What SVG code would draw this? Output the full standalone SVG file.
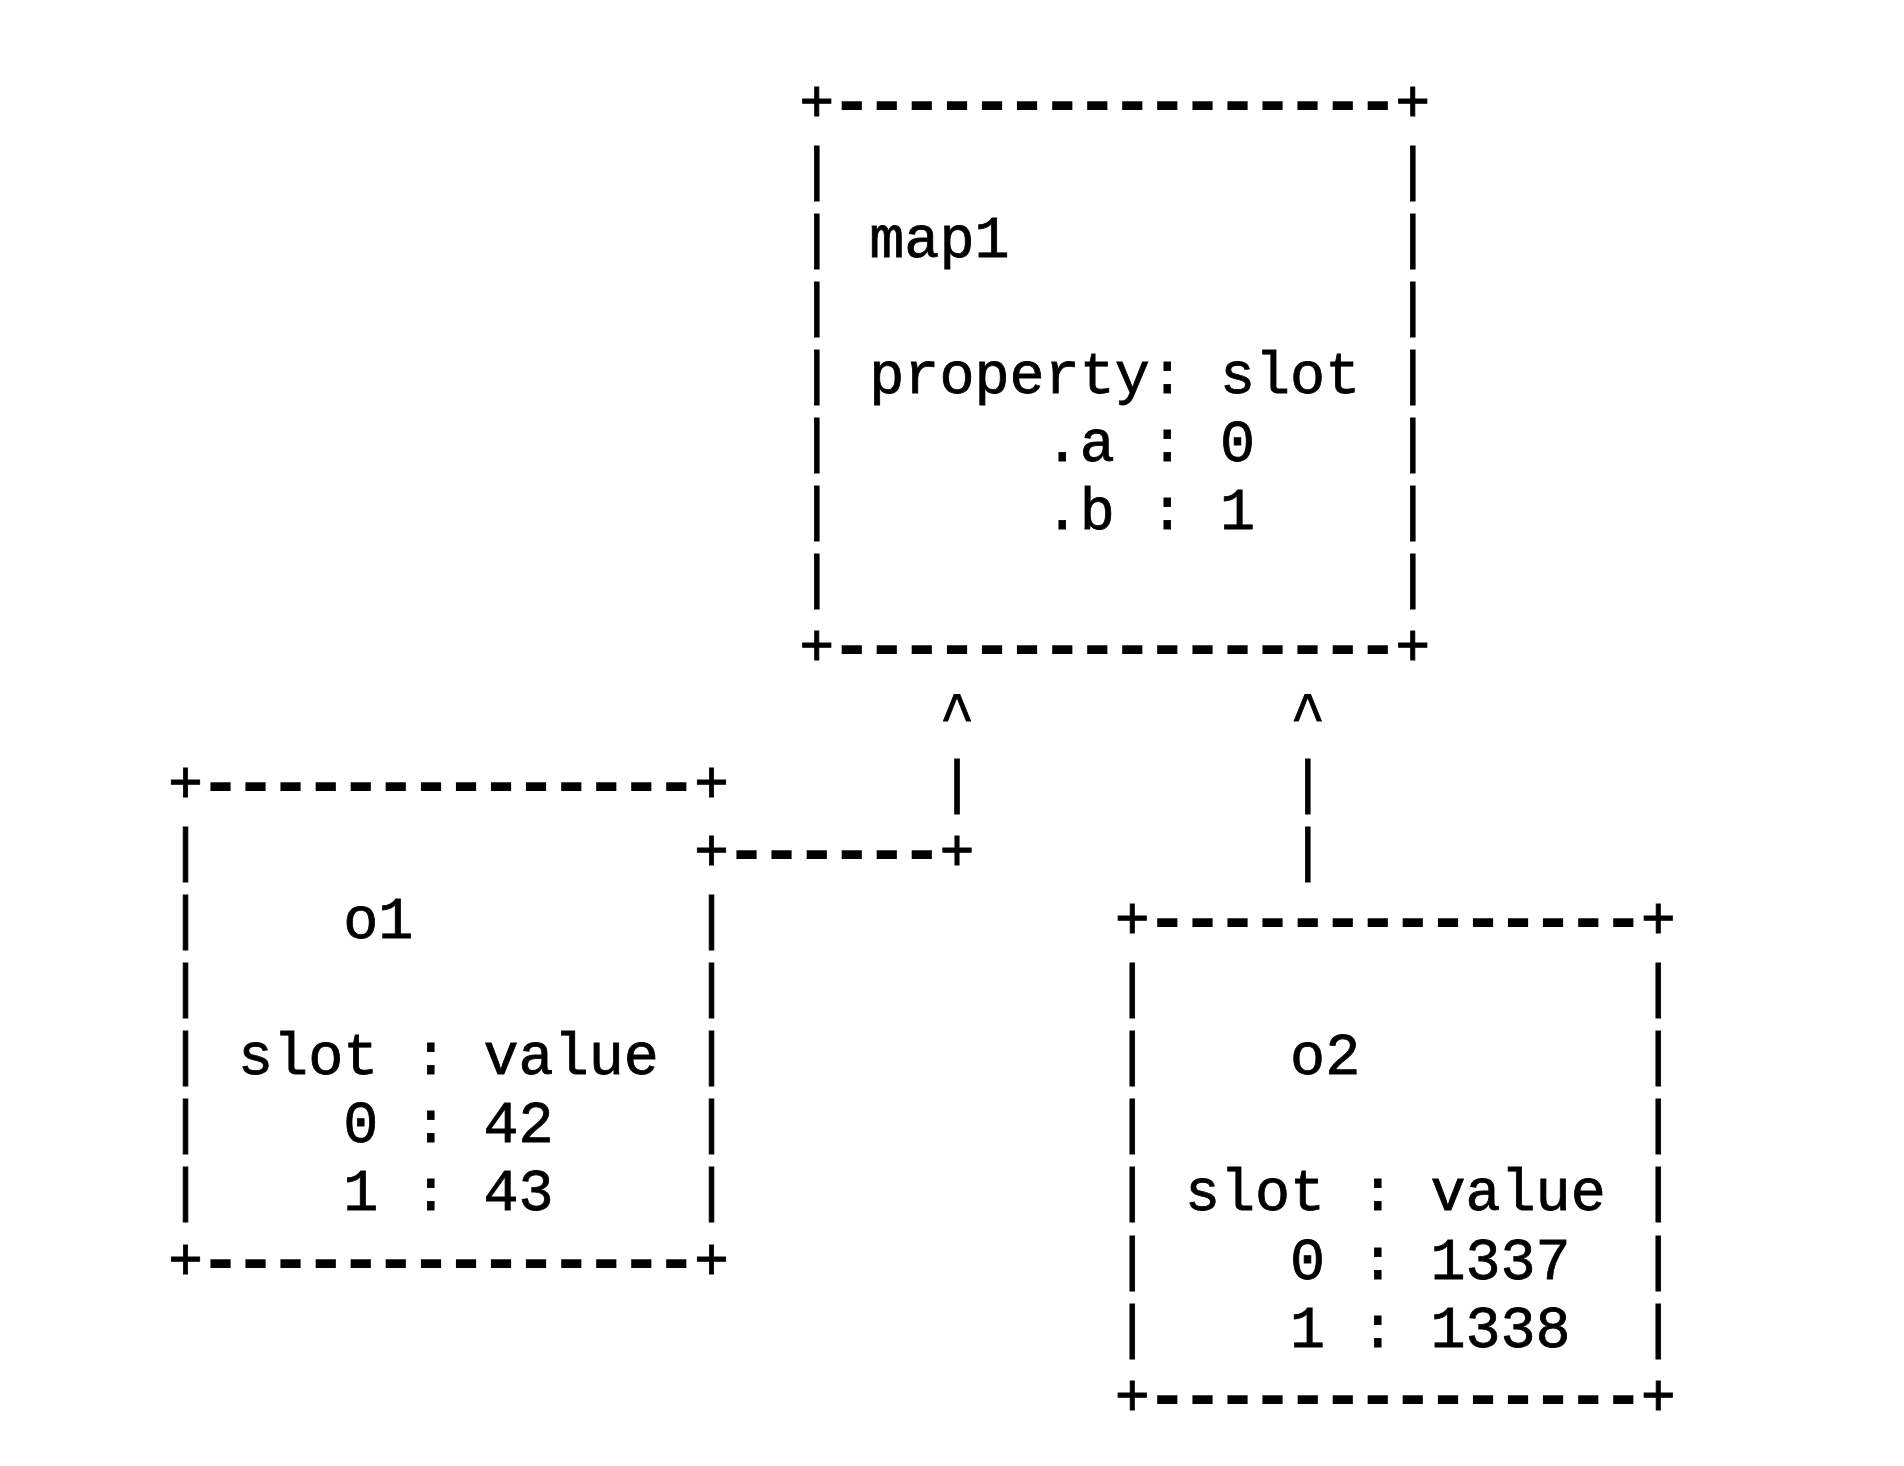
<svg xmlns="http://www.w3.org/2000/svg" width="1904" height="1466" viewBox="0 0 1904 1466" xml:space="preserve">
<style>
text { font-family: "Liberation Mono", "DejaVu Sans Mono", monospace; font-size: 58.45px; fill: #000; stroke: #000; stroke-width: 0.8px; white-space: pre; }
.d { stroke-width: 4.2px; stroke-linejoin: miter; }
</style>
<rect x="0" y="0" width="1904" height="1466" fill="#fff" stroke="none"/>
<g id="map1">
<text x="799.16" y="120.5">+<tspan class="d">----------------</tspan>+</text>
<text x="799.16" y="188.62">|                |</text>
<text x="799.16" y="256.74">| map1           |</text>
<text x="799.16" y="324.86">|                |</text>
<text x="799.16" y="392.98">| property: slot |</text>
<text x="799.16" y="461.1">|      .a : 0    |</text>
<text x="799.16" y="529.22">|      .b : 1    |</text>
<text x="799.16" y="597.34">|                |</text>
<text x="799.16" y="665.46">+<tspan class="d">----------------</tspan>+</text>
</g>
<g id="o1">
<text x="167.9" y="801.7">+<tspan class="d">--------------</tspan>+</text>
<text x="167.9" y="869.82">|</text>
<text x="167.9" y="937.94">|    o1        |</text>
<text x="167.9" y="1006.06">|              |</text>
<text x="167.9" y="1074.18">| slot : value |</text>
<text x="167.9" y="1142.3">|    0 : 42    |</text>
<text x="167.9" y="1210.42">|    1 : 43    |</text>
<text x="167.9" y="1278.54">+<tspan class="d">--------------</tspan>+</text>
</g>
<g id="o2">
<text x="1114.79" y="937.94">+<tspan class="d">--------------</tspan>+</text>
<text x="1114.79" y="1006.06">|              |</text>
<text x="1114.79" y="1074.18">|    o2        |</text>
<text x="1114.79" y="1142.3">|              |</text>
<text x="1114.79" y="1210.42">| slot : value |</text>
<text x="1114.79" y="1278.54">|    0 : 1337  |</text>
<text x="1114.79" y="1346.66">|    1 : 1338  |</text>
<text x="1114.79" y="1414.78">+<tspan class="d">--------------</tspan>+</text>
</g>
<g id="connectors">
<text x="939.44" y="733.58">^</text>
<text x="939.44" y="801.7">|</text>
<text x="693.95" y="869.82">+<tspan class="d">------</tspan>+</text>
<text x="1290.14" y="733.58">^</text>
<text x="1290.14" y="801.7">|</text>
<text x="1290.14" y="869.82">|</text>
</g>
</svg>
